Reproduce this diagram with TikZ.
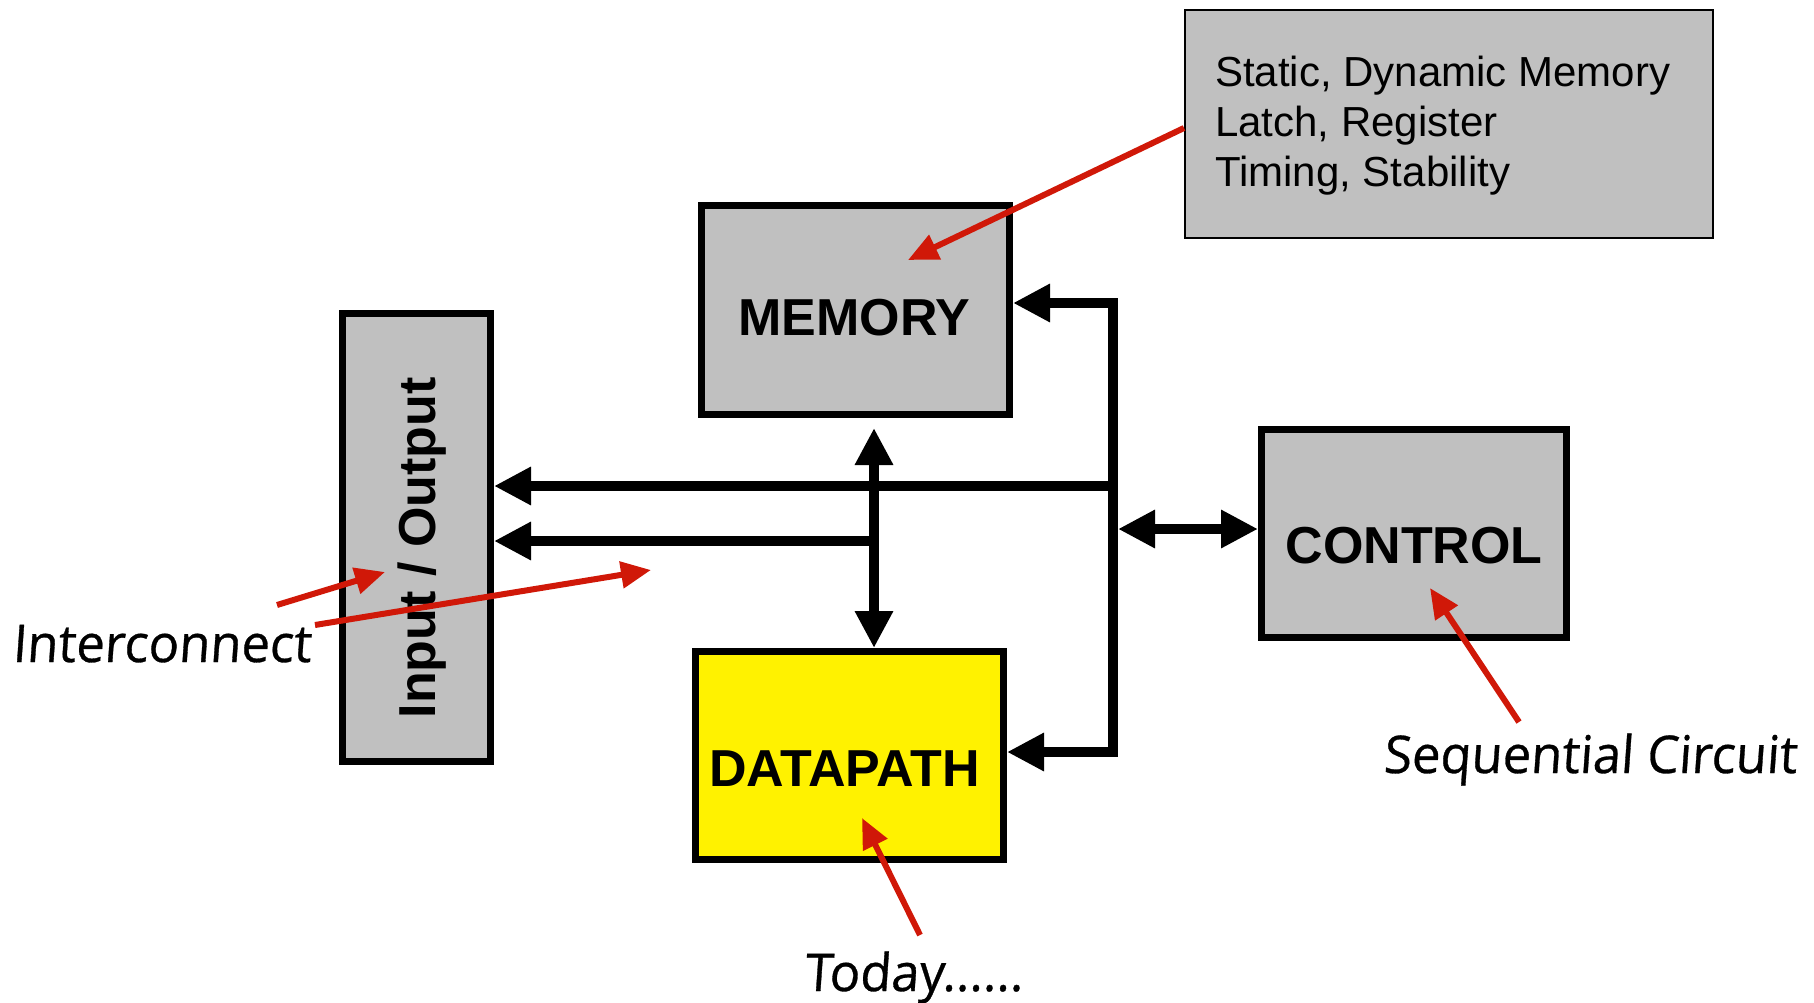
\documentclass[tikz,border=0pt]{standalone}
\usepackage{fontspec}
\setmainfont{Liberation Sans}
\newfontfamily\annfont[FakeSlant=0.07,FakeStretch=0.975,FakeBold=0.6]{Open Sans}
\usetikzlibrary{arrows.meta}
\definecolor{boxgray}{RGB}{192,192,192}
\definecolor{annred}{RGB}{208,24,8}
\begin{document}
\begin{tikzpicture}[x=1pt,y=-1pt,
  blk/.style={draw=black, line width=7pt, fill=boxgray, inner sep=0pt, outer sep=3.5pt},
  bigtext/.style={font=\fontsize{52}{60}\selectfont\bfseries, inner sep=0pt},
  notetext/.style={font=\fontsize{42}{50}\selectfont, inner sep=0pt},
  anntext/.style={font=\annfont\fontsize{52}{60}\selectfont, inner sep=0pt, anchor=base west},
  conn/.style={draw=black, line width=10pt, line join=miter},
  btip/.tip={Triangle[length=37pt,width=36pt]},
  redarrow/.style={draw=annred, line width=6pt, -{Triangle[length=30pt,width=26pt]}}]
\useasboundingbox (0,0) rectangle (1814,1003);

% boxes
\node[blk, minimum width=308pt, minimum height=209pt] (mem) at (855.5,310) {};
\node[blk, fill=yellow, minimum width=308pt, minimum height=208pt] (dp) at (849.5,755.5) {};
\node[blk, minimum width=305pt, minimum height=208pt] (ctl) at (1414,533.5) {};
\node[blk, minimum width=148pt, minimum height=448pt] (io) at (416.5,537.5) {};
\node[draw=black, line width=2pt, fill=boxgray, minimum width=528pt, minimum height=228pt, inner sep=0pt, outer sep=1pt] (notes) at (1449,124) {};

% box texts
\node[bigtext, anchor=base] (memtxt) at (854.5,335) {MEMORY};
\node[bigtext, anchor=base] (ctltxt) at (1414,563) {CONTROL};
\node[bigtext, anchor=base] (dptxt) at (844.5,786) {DATAPATH};
\node[bigtext, rotate=90] (iotxt) at (422,548) {Input / Output};

\node[notetext, anchor=base west] (n1) at (1215,87) {Static, Dynamic Memory};
\node[notetext, anchor=base west] (n2) at (1215,137) {Latch, Register};
\node[notetext, anchor=base west] (n3) at (1215,187) {Timing, Stability};

% black connectors
\coordinate (busTop) at (1113,303);
\coordinate (busBot) at (1113,752);
\draw[conn, {btip}-{btip}] (mem.east |- busTop) -- (busTop) -- (busBot) -- (dp.east |- busBot);
\coordinate (busIO) at (1113,486);
\draw[conn, -{btip}] (busIO) -- (io.east |- busIO);
\coordinate (vIO) at (874,541);
\draw[conn, -{btip}] (vIO) -- (io.east |- vIO);
\coordinate (vTop) at (874,428);
\draw[conn, {btip}-{btip}] (vTop) -- (vTop |- dp.north);
\coordinate (busCtl) at (1118,529);
\draw[conn, {btip}-{btip}] (busCtl) -- (ctl.west |- busCtl);

% annotations
\node[anntext] (ic) at (12,662) {Interconnect};
\node[anntext] (seq) at (1383,773) {Sequential Circuit};
\node[anntext] (today) at (804,991) {Today......};

\coordinate (m1) at (notes.west |- 0,128);
\coordinate (m2) at (908,260);
\draw[redarrow] (m1) -- (m2);
\coordinate (s1) at (277,605);
\coordinate (s2) at (385,572);
\draw[redarrow] (s1) -- (s2);
\coordinate (l1) at (315,625);
\coordinate (l2) at (651,570);
\draw[redarrow] (l1) -- (l2);
\coordinate (c1) at (1519,722);
\coordinate (c2) at (1430,588);
\draw[redarrow] (c1) -- (c2);
\coordinate (d1) at (920,935);
\coordinate (d2) at (862,818);
\draw[redarrow] (d1) -- (d2);
\end{tikzpicture}
\end{document}
